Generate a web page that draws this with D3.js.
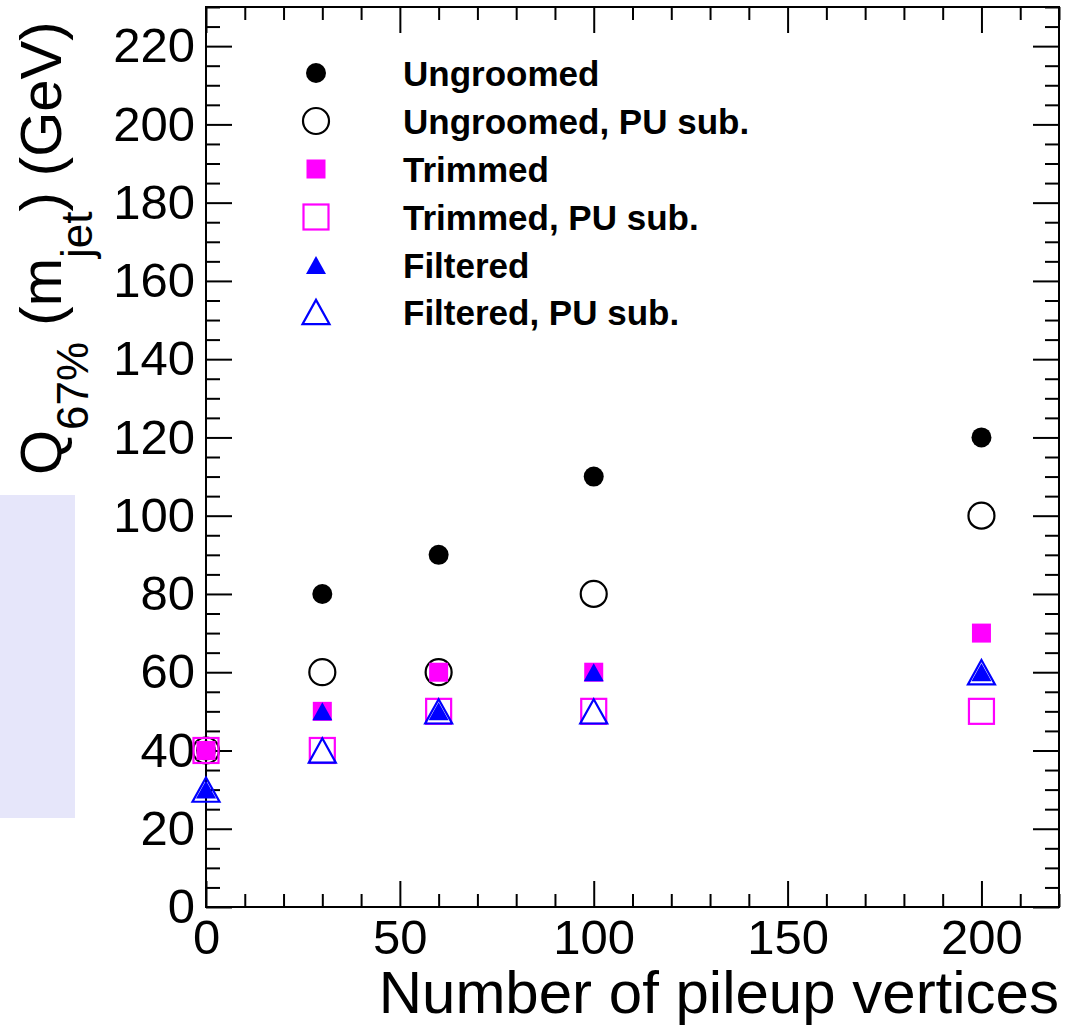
<!DOCTYPE html>
<html>
<head>
<meta charset="utf-8">
<script src="https://cdn.jsdelivr.net/npm/d3@7"></script>
<style>
  html, body { margin: 0; padding: 0; background: #fff; }
  svg { display: block; font-family: "Liberation Sans", Arial, Helvetica, sans-serif; }
</style>
</head>
<body>
<svg id="chart" width="1074" height="1027"></svg>
<script>
// ---- data ----
const pileup = [0, 30, 60, 100, 200];
const ungroomed = [40, 80, 90, 110, 120];
const ungroomedPU = [40, 60, 60, 80, 100];
const trimmed = [40, 50, 60, 60, 70];
const trimmedPU = [40, 40, 50, 50, 50];
const filtered = [30, 50, 50, 60, 60];
const filteredPU = [30, 40, 50, 50, 60];

const seriesNames = ["Ungroomed", "Ungroomed, PU sub.", "Trimmed", "Trimmed, PU sub.", "Filtered", "Filtered, PU sub."];
const xMajorTicks = [0, 50, 100, 150, 200];
const yMajorTicks = [0, 20, 40, 60, 80, 100, 120, 140, 160, 180, 200, 220];

// ---- layout ----
const L = 206, R = 1059, T = 7, B = 907;
const svg = d3.select("#chart");

const x = d3.scaleLinear().domain([0, 220]).range([L, R]);
const y = d3.scaleLinear().domain([0, 230]).range([B, T]);

// decorative lavender block on the left
svg.append("rect").attr("x", 0).attr("y", 495).attr("width", 75).attr("height", 323).attr("fill", "#e6e6fa");

const xMinor = d3.range(0, 221, 10).filter(v => v % 50 !== 0);
const yMinor = d3.range(0, 231, 5).filter(v => v % 20 !== 0);

function styleAxis(g) {
  g.select(".domain").remove();
  g.selectAll(".tick line").attr("stroke", "#000").attr("stroke-width", 2);
  g.selectAll(".tick text").attr("fill", "#000").attr("font-size", 49).attr("font-family", "Liberation Sans, Arial, sans-serif");
}

// bottom
svg.append("g").attr("transform", `translate(0,${B})`)
  .call(d3.axisBottom(x).tickValues(xMajorTicks).tickSize(-26).tickPadding(12).tickFormat(d3.format("d")))
  .call(styleAxis);
svg.append("g").attr("transform", `translate(0,${B})`)
  .call(d3.axisBottom(x).tickValues(xMinor).tickSize(-13).tickFormat(""))
  .call(styleAxis);
// top
svg.append("g").attr("transform", `translate(0,${T})`)
  .call(d3.axisTop(x).tickValues(xMajorTicks).tickSize(-26).tickFormat(""))
  .call(styleAxis);
svg.append("g").attr("transform", `translate(0,${T})`)
  .call(d3.axisTop(x).tickValues(xMinor).tickSize(-13).tickFormat(""))
  .call(styleAxis);
// left
svg.append("g").attr("transform", `translate(${L},0)`)
  .call(d3.axisLeft(y).tickValues(yMajorTicks).tickSize(-26).tickPadding(11).tickFormat(d3.format("d")))
  .call(styleAxis);
svg.append("g").attr("transform", `translate(${L},0)`)
  .call(d3.axisLeft(y).tickValues(yMinor).tickSize(-14).tickFormat(""))
  .call(styleAxis);
// right
svg.append("g").attr("transform", `translate(${R},0)`)
  .call(d3.axisRight(y).tickValues(yMajorTicks).tickSize(-26).tickFormat(""))
  .call(styleAxis);
svg.append("g").attr("transform", `translate(${R},0)`)
  .call(d3.axisRight(y).tickValues(yMinor).tickSize(-14).tickFormat(""))
  .call(styleAxis);

// frame
svg.append("rect").attr("x", L).attr("y", T).attr("width", R - L).attr("height", B - T)
  .attr("fill", "none").attr("stroke", "#000").attr("stroke-width", 2);

// ---- markers ----
const MAG = "#ff00ff", BLUE = "#0000ff";
const styles = [
  { type: "circle", fill: "#000", stroke: "none", size: 20 },
  { type: "circle", fill: "none", stroke: "#000", size: 26 },
  { type: "square", fill: MAG, stroke: "none", size: 19 },
  { type: "square", fill: "none", stroke: MAG, size: 25 },
  { type: "triangle", fill: BLUE, stroke: "none", size: 20 },
  { type: "triangle", fill: "none", stroke: BLUE, size: 27 }
];
const allSeries = [ungroomed, ungroomedPU, trimmed, trimmedPU, filtered, filteredPU];

function drawMarker(g, st, cx, cy) {
  const s = st.size;
  let el;
  if (st.type === "circle") {
    el = g.append("circle").attr("cx", cx).attr("cy", cy).attr("r", s / 2);
  } else if (st.type === "square") {
    el = g.append("rect").attr("x", cx - s / 2).attr("y", cy - s / 2).attr("width", s).attr("height", s);
  } else {
    const h = s * 0.9;
    el = g.append("path").attr("d", `M${cx},${cy - h / 2}L${cx + s / 2},${cy + h / 2}L${cx - s / 2},${cy + h / 2}Z`);
  }
  el.attr("fill", st.fill).attr("stroke", st.stroke).attr("stroke-width", st.stroke === "none" ? 0 : 2.2);
}

const gPts = svg.append("g");
allSeries.forEach((vals, i) => {
  const st = styles[i];
  const g = gPts.append("g").attr("class", "series-" + i);
  vals.forEach((v, j) => drawMarker(g, st, x(pileup[j]), y(v)));
});

// ---- legend ----
const legY = [73, 121, 169, 217, 265, 312];
const leg = svg.append("g");
seriesNames.forEach((name, i) => {
  drawMarker(leg, styles[i], 316, legY[i]);
  leg.append("text").attr("x", 403).attr("y", legY[i]).attr("dy", "0.36em")
    .attr("font-size", 35).attr("font-weight", "bold").attr("fill", "#000").text(name);
});

// ---- axis titles ----
svg.append("text").attr("x", R).attr("y", 1013).attr("text-anchor", "end")
  .attr("font-size", 60).attr("fill", "#000").text("Number of pileup vertices");

const yt = svg.append("text").attr("transform", "translate(61,475) rotate(-90)")
  .attr("font-size", 58).attr("fill", "#000");
yt.append("tspan").text("Q");
yt.append("tspan").attr("font-size", 44).attr("dy", 27).text("67%");
yt.append("tspan").attr("dy", -27).text(" (m");
yt.append("tspan").attr("font-size", 44).attr("dy", 31).text("jet");
yt.append("tspan").attr("dy", -31).text(") (GeV)");
</script>
</body>
</html>
